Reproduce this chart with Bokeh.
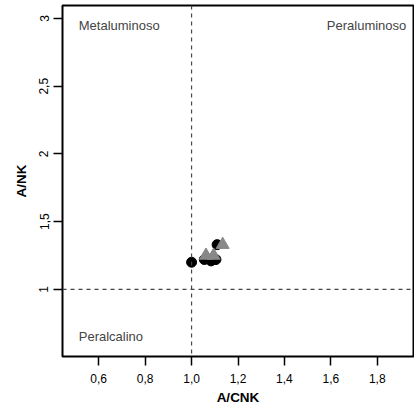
from bokeh.plotting import figure
from bokeh.models import Span, Label, FixedTicker
from bokeh.embed import file_html
from bokeh.resources import INLINE

# data
circ_x = [1.00, 1.055, 1.084, 1.105, 1.11]
circ_y = [1.20, 1.22, 1.21, 1.22, 1.33]
tri_x = [1.062, 1.095, 1.134]
tri_y = [1.25, 1.25, 1.33]
x_ticks = [0.6, 0.8, 1.0, 1.2, 1.4, 1.6, 1.8]
x_tick_labels = ["0,6", "0,8", "1,0", "1,2", "1,4", "1,6", "1,8"]
y_ticks = [1, 1.5, 2, 2.5, 3]
y_tick_labels = ["1", "1,5", "2", "2,5", "3"]
region_names = ["Metaluminoso", "Peraluminoso", "Peralcalino"]

FONT = "Liberation Sans"

p = figure(width=414, height=407, output_backend="svg", toolbar_location=None,
           x_range=(0.444, 1.956), y_range=(0.504, 3.096),
           min_border_left=62, min_border_right=1, min_border_top=5, min_border_bottom=51)
p.grid.visible = False
p.outline_line_color = "black"
p.outline_line_width = 2
p.background_fill_color = "white"
p.border_fill_color = "white"

for ax in (p.xaxis[0], p.yaxis[0]):
    ax.axis_line_color = None
    ax.major_tick_in = 0
    ax.major_tick_out = 9
    ax.major_tick_line_width = 1.5
    ax.minor_tick_line_color = None
    ax.major_label_text_font = FONT
    ax.major_label_text_font_size = "12px"
    ax.major_label_text_color = "black"
    ax.axis_label_text_font = FONT
    ax.axis_label_text_font_size = "13.5px"
    ax.axis_label_text_font_style = "bold"
    ax.axis_label_text_color = "black"

p.xaxis.ticker = FixedTicker(ticks=x_ticks)
p.xaxis.major_label_overrides = {t: l for t, l in zip(x_ticks, x_tick_labels)}
p.yaxis.ticker = FixedTicker(ticks=y_ticks)
p.yaxis.major_label_overrides = {t: l for t, l in zip(y_ticks, y_tick_labels)}
p.yaxis.major_label_orientation = "vertical"
p.xaxis.axis_label = "A/CNK"
p.yaxis.axis_label = "A/NK"
p.xaxis.major_label_standoff = 8
p.yaxis.major_label_standoff = 5
p.xaxis.axis_label_standoff = 4
p.yaxis.axis_label_standoff = 8

p.add_layout(Span(location=1.0, dimension="height", line_color="#444444",
                  line_dash="4 4", line_width=1.2))
p.add_layout(Span(location=1.0, dimension="width", line_color="#444444",
                  line_dash="4 4", line_width=1.2))

p.scatter(circ_x, circ_y, marker="circle", size=10, fill_color="black", line_color="black")
p.scatter(tri_x, tri_y, marker="triangle", size=13, fill_color="#888888", line_color="#888888")

p.add_layout(Label(x=0.514, y=2.95, text=region_names[0], text_font=FONT,
                   text_font_size="13px", text_baseline="middle", text_align="left"))
p.add_layout(Label(x=1.925, y=2.95, text=region_names[1], text_font=FONT,
                   text_font_size="13px", text_baseline="middle", text_align="right"))
p.add_layout(Label(x=0.514, y=0.655, text=region_names[2], text_font=FONT,
                   text_font_size="13px", text_baseline="middle", text_align="left"))

open("out.html", "w").write(file_html(p, INLINE))
